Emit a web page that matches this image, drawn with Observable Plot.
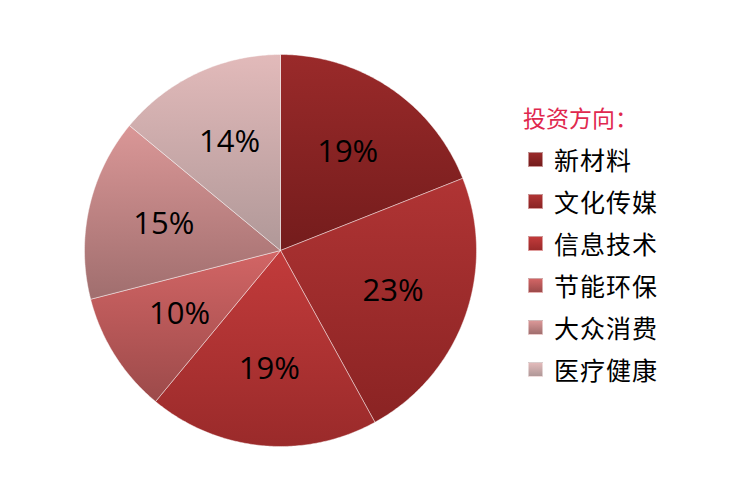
<!DOCTYPE html>
<html>
<head>
<meta charset="utf-8">
<script src="https://cdn.jsdelivr.net/npm/d3@7"></script>
<script src="https://cdn.jsdelivr.net/npm/@observablehq/plot@0.6"></script>
<style>
  html, body { margin: 0; padding: 0; background: #fff; }
  #wrap { position: relative; width: 730px; height: 499px; overflow: hidden; }
  #legend { position: absolute; left: 523px; top: 102px; font-family: "Noto Sans CJK SC", sans-serif; }
  #legend .title { color: #e0284e; font-size: 23px; line-height: 30px; height: 36px; letter-spacing: 0px; }
  #legend .item { display: flex; align-items: center; height: 42px; font-size: 25px; letter-spacing: 1px; color: #000; }
  #legend .sw { width: 13px; height: 13px; margin-left: 5px; margin-right: 11px; border: 0.5px solid rgba(255,255,255,0.5); }
</style>
</head>
<body>
<div id="wrap"></div>
<script>
const categories = ["新材料", "文化传媒", "信息技术", "节能环保", "大众消费", "医疗健康"];
const shares = [19, 23, 19, 10, 15, 14];
const labels = ["19%", "23%", "19%", "10%", "15%", "14%"];
const legendTitle = "投资方向：";
const topColors = ["#9a2a2a", "#b03434", "#c23b3b", "#d26565", "#da9797", "#e2baba"];
const bottomColors = ["#741c1c", "#8a2323", "#9a2a2a", "#9c4a4a", "#a06e6e", "#b09898"];

const arcs = d3.pie().sort(null).value(d => d)(shares);

const marks = [];
arcs.forEach((a, i) => {
  const pts = [{x: 0, y: 0}];
  const n = Math.max(8, Math.ceil((a.endAngle - a.startAngle) / 0.01));
  for (let k = 0; k <= n; k++) {
    const t = a.startAngle + (a.endAngle - a.startAngle) * k / n;
    pts.push({x: Math.sin(t), y: Math.cos(t)});
  }
  pts.push({x: 0, y: 0});
  marks.push(Plot.line(pts, {x: "x", y: "y", fill: `url(#grad${i})`, stroke: "#ffffff", strokeOpacity: 0.55, strokeWidth: 0.8, curve: "linear"}));
});

const labelData = arcs.map((a, i) => {
  const m = (a.startAngle + a.endAngle) / 2;
  return {x: Math.sin(m) * 0.61, y: Math.cos(m) * 0.61, text: labels[i]};
});
marks.push(Plot.text(labelData, {x: "x", y: "y", text: "text", fill: "#000", fontSize: 31, fontFamily: "Open Sans, Liberation Sans, sans-serif", textAnchor: "middle"}));

const svg = Plot.plot({
  width: 730,
  height: 499,
  marginLeft: 84,
  marginRight: 254,
  marginTop: 54,
  marginBottom: 53,
  x: {domain: [-1, 1], axis: null},
  y: {domain: [-1, 1], axis: null},
  style: {background: "transparent", overflow: "visible"},
  marks
});

const ns = "http://www.w3.org/2000/svg";
const defs = document.createElementNS(ns, "defs");
topColors.forEach((c, i) => {
  const g = document.createElementNS(ns, "linearGradient");
  g.setAttribute("id", `grad${i}`);
  g.setAttribute("x1", "0"); g.setAttribute("y1", "0");
  g.setAttribute("x2", "0"); g.setAttribute("y2", "1");
  const s1 = document.createElementNS(ns, "stop");
  s1.setAttribute("offset", "0"); s1.setAttribute("stop-color", c);
  const s2 = document.createElementNS(ns, "stop");
  s2.setAttribute("offset", "1"); s2.setAttribute("stop-color", bottomColors[i]);
  g.appendChild(s1); g.appendChild(s2);
  defs.appendChild(g);
});
svg.insertBefore(defs, svg.firstChild);

const wrap = document.getElementById("wrap");
wrap.appendChild(svg);

const legend = document.createElement("div");
legend.id = "legend";
const t = document.createElement("div");
t.className = "title";
t.textContent = legendTitle;
legend.appendChild(t);
categories.forEach((c, i) => {
  const row = document.createElement("div");
  row.className = "item";
  const sw = document.createElement("span");
  sw.className = "sw";
  sw.style.background = `linear-gradient(${topColors[i]}, ${bottomColors[i]})`;
  const lab = document.createElement("span");
  lab.textContent = c;
  row.appendChild(sw); row.appendChild(lab);
  legend.appendChild(row);
});
wrap.appendChild(legend);
</script>
</body>
</html>
